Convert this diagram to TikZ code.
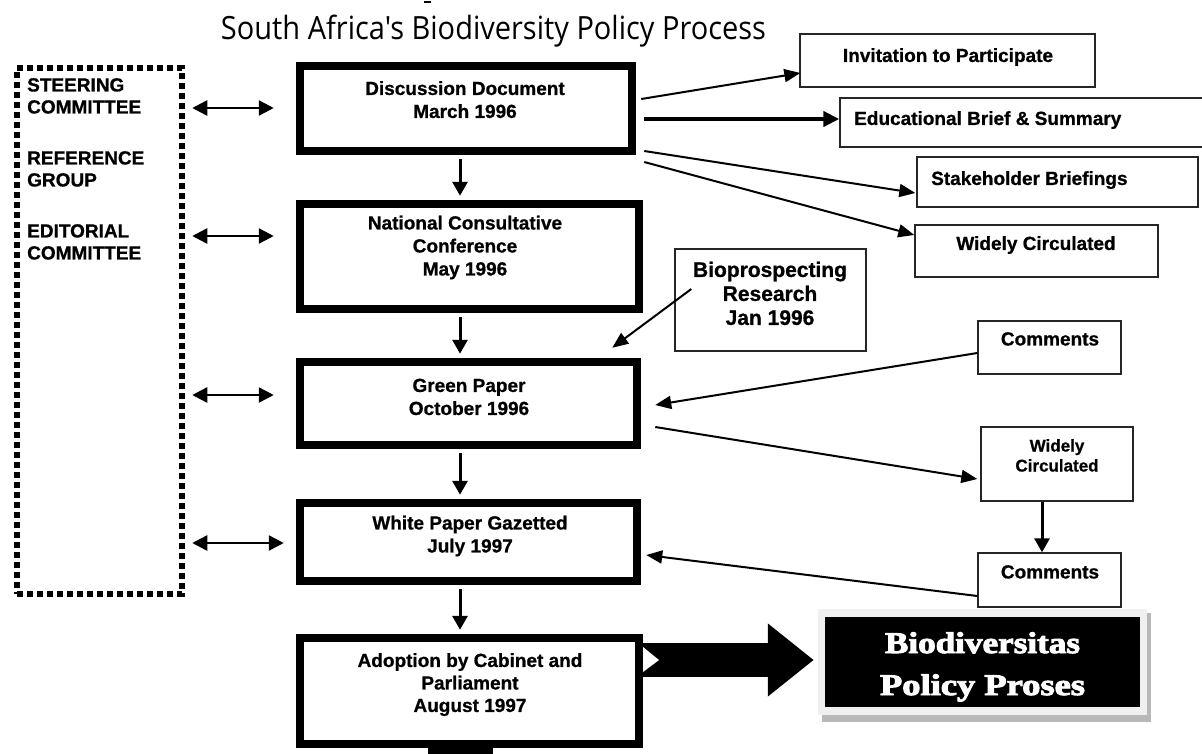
\documentclass[tikz,border=0pt]{standalone}
\usepackage{fontspec}
\setmainfont{Liberation Sans}[BoldFeatures={FakeBold=0.8}]
\newfontfamily\titlefont{Open Sans}
\newfontfamily\heavyserif[BoldFeatures={FakeBold=3}]{Liberation Serif}
\usetikzlibrary{arrows.meta,calc}
\tikzset{
  mainbox/.style={draw, line width=8.5pt, inner sep=0},
  thinbox/.style={draw=black!85, line width=1.4pt, inner sep=0},
  txt/.style={font=\fontsize{19}{23}\selectfont\bfseries, align=center, inner sep=0, anchor=north},
  ltxt/.style={font=\fontsize{19}{22}\selectfont\bfseries, align=left, inner sep=0, anchor=north west},
  conn/.style={line width=2pt, -{Triangle[length=16pt,width=13pt]}},
  thickconn/.style={line width=4.5pt, -{Triangle[length=16pt,width=15pt]}},
  downarr/.style={line width=3pt, -{Triangle[length=14pt,width=15pt]}},
  twoway/.style={line width=2.5pt, {Triangle[length=15pt,width=15pt]}-{Triangle[length=15pt,width=15pt]}},
  dotbox/.style={draw, line width=6.5pt, dash pattern=on 6pt off 4pt, inner sep=0}
}
\begin{document}
\begin{tikzpicture}[x=1pt,y=-1pt]
\useasboundingbox (0,0) rectangle (1202,753);
\fill[white] (0,0) rectangle (1202,753);

% title
\node[inner sep=0, anchor=north, font=\titlefont\fontsize{32}{36}\selectfont] (title) at (493.5,14.5)
  {\resizebox{545pt}{\height}{South Africa's Biodiversity Policy Process}};
\fill (424,0.5) rectangle (431,3);

% left dotted group
\node[dotbox, minimum width=165pt, minimum height=526pt] (team) at (99.5,331) {};
\node[ltxt] (steer) at (27,78) {STEERING\\COMMITTEE};
\node[ltxt] (ref) at (27,151) {REFERENCE\\GROUP};
\node[ltxt] (edit) at (27,224) {EDITORIAL\\COMMITTEE};

% main boxes
\node[mainbox, minimum width=332pt, minimum height=85pt] (disc) at (466,108.5) {};
\node[mainbox, minimum width=339pt, minimum height=105pt] (nat) at (469.5,256.5) {};
\node[mainbox, minimum width=337pt, minimum height=83pt] (green) at (468.5,403.5) {};
\node[mainbox, minimum width=337pt, minimum height=78pt] (white) at (468.5,542) {};
\node[mainbox, minimum width=339pt, minimum height=106pt] (adopt) at (469.5,691) {};

\node[txt] (disctxt) at (465,81) {Discussion Document\\March 1996};
\node[txt] (nattxt) at (465,215.5) {National Consultative\\Conference\\May 1996};
\node[txt] (greentxt) at (469,378.5) {Green Paper\\October 1996};
\node[txt] (whitetxt) at (470,515.5) {White Paper Gazetted\\July 1997};
\node[txt, font=\fontsize{19}{22.5}\selectfont\bfseries] (adopttxt) at (470,653) {Adoption by Cabinet and\\Parliament\\August 1997};

% right boxes
\node[thinbox, minimum width=295pt, minimum height=53pt] (inv) at (947.5,60.5) {};
\node[thinbox, minimum width=370pt, minimum height=49pt] (edu) at (1025,122.5) {};
\node[thinbox, minimum width=281pt, minimum height=50pt] (stake) at (1057.5,182) {};
\node[thinbox, minimum width=243pt, minimum height=52pt] (wide1) at (1036.5,251) {};
\node[thinbox, minimum width=191pt, minimum height=102pt] (bio) at (770.5,300) {};
\node[thinbox, minimum width=143pt, minimum height=53pt] (com1) at (1049.5,347.5) {};
\node[thinbox, minimum width=152pt, minimum height=74pt] (wide2) at (1057,464) {};
\node[thinbox, minimum width=143pt, minimum height=54pt] (com2) at (1049.5,580) {};

\node[txt] (invtxt) at (948,48) {Invitation to Participate};
\node[txt, anchor=north west] (edutxt) at (854,111) {Educational Brief \& Summary};
\node[txt, anchor=north west] (staketxt) at (931,171) {Stakeholder Briefings};
\node[txt] (wide1txt) at (1036,236) {Widely Circulated};
\node[txt, font=\fontsize{21}{24}\selectfont\bfseries] (biotxt) at (770,261.5) {Bioprospecting\\Research\\Jan 1996};
\node[txt] (com1txt) at (1050,332) {Comments};
\node[txt, font=\fontsize{17}{20}\selectfont\bfseries] (wide2txt) at (1057,439) {Widely\\Circulated};
\node[txt] (com2txt) at (1050,565) {Comments};

% final black box
\fill[black!28] (822,613) rectangle (1151,722);
\fill[black!6] (818,609) rectangle (1147,715);
\node[fill=black, inner sep=0, minimum width=315pt, minimum height=90pt] (final) at (982.5,662) {};
\node[inner sep=0, anchor=north, align=center, text=white,
      font=\heavyserif\bfseries\fontsize{30}{42}\selectfont] (finaltxt) at (982.5,632)
  {\resizebox{195pt}{\height}{Biodiversitas}\\\resizebox{205pt}{\height}{Policy Proses}};

% vertical flow
\draw[downarr] ($(disc.south)+(-6,4)$) -- ($(nat.north)+(-9.5,-4)$);
\draw[downarr] ($(nat.south)+(-9.5,4)$) -- ($(green.north)+(-8.5,-4)$);
\draw[downarr] ($(green.south)+(-8.5,4)$) -- ($(white.north)+(-8.5,-4)$);
\draw[downarr] ($(white.south)+(-8.5,4)$) -- ($(adopt.north)+(-9.5,-4)$);
\fill (428,747) rectangle (493,760);

% two-way arrows
\draw[twoway] ($(team.east)+(7,-223)$) -- ($(disc.west)+(-22,-0.5)$);
\draw[twoway] ($(team.east)+(7,-95)$) -- ($(nat.west)+(-22,-20.5)$);
\draw[twoway] ($(team.east)+(7,64)$) -- ($(green.west)+(-22,-8.5)$);
\draw[twoway] ($(team.east)+(7,212)$) -- ($(white.west)+(-12,1)$);

% outputs of discussion document
\draw[conn] ($(disc.east)+(5,-9.5)$) -- ($(inv.west)+(1,12.5)$);
\draw[thickconn] ($(disc.east)+(8,10.5)$) -- ($(edu.west)+(0,-3.5)$);
\draw[conn] ($(disc.east)+(8,42.5)$) -- ($(stake.west)+(-1,11)$);
\draw[conn] ($(disc.east)+(8,53.5)$) -- ($(wide1.west)+(0,-16)$);

% green / white paper
\draw[conn] ($(bio.west)+(17,-11)$) -- ($(green.north east)+(-29,-10)$);
\draw[conn] ($(com1.west)+(0,5.5)$) -- ($(green.east)+(14,1.5)$);
\draw[conn] ($(green.east)+(14,23.5)$) -- ($(wide2.west)+(-3,15)$);
\draw[downarr] ($(wide2.south)+(-15,0)$) -- ($(com2.north)+(-7.5,0)$);
\draw[conn] ($(com2.west)+(0,16)$) -- ($(white.east)+(5,13)$);

% big arrow
\draw[line width=34pt, -{Triangle[length=46pt,width=70pt]}] ($(adopt.east)+(0,-31)$) -- ($(final.west)+(-11,-2)$);
\fill[white] (643,647) -- (659,660) -- (643,672) -- cycle;
\end{tikzpicture}
\end{document}
